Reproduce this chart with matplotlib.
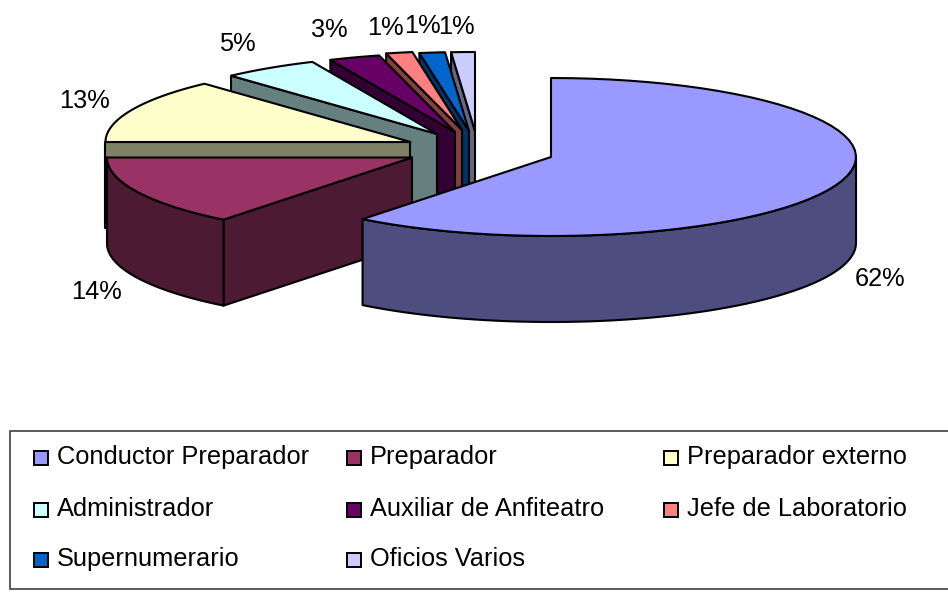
import numpy as np
import matplotlib
matplotlib.use("Agg")
import matplotlib.pyplot as plt
from matplotlib.patches import Rectangle

plt.rcParams["font.family"] = ["Liberation Sans", "DejaVu Sans"]

categories = [
    "Conductor Preparador", "Preparador", "Preparador externo",
    "Administrador", "Auxiliar de Anfiteatro", "Jefe de Laboratorio",
    "Supernumerario", "Oficios Varios",
]
shares = [60.6, 14.4, 13.2, 5.1, 2.7, 1.4, 1.35, 1.25]
pct_labels = ["62%", "14%", "13%", "5%", "3%", "1%", "1%", "1%"]
top_colors = ["#9999FF", "#993366", "#FFFFCC", "#CCFFFF", "#660066", "#FF8080", "#0066CC", "#CCCCFF"]
wall_colors = ["#4D4D80", "#4D1A33", "#808066", "#668080", "#330033", "#804040", "#003366", "#666680"]

# layout, all in pixels of the 948x592 picture
RX, RY, DEPTH = 305, 79, 86
apex_xy = [(551, 157), (412, 157.5), (410.5, 142), (437, 134), (455, 132), (462, 130), (469, 131), (475, 131)]
label_xy = [(880, 279), (97, 292), (85, 101), (237, 44), (329, 30), (385, 28), (422, 26), (456, 27)]
legend_col_x = [34, 347, 664]
legend_row_y = [451, 503, 553]
FONT_SIZE = 18.3
EDGE = dict(edgecolor="black", linewidth=1.5, joinstyle="round")


def rim(apex, a0, a1, n=60):
    t = np.radians(np.linspace(a0, a1, n))
    return apex[0] + RX * np.sin(t), apex[1] - RY * np.cos(t)


def draw_slice(ax, apex, a0, a1, top, wall):
    # radial wall, only when it faces the viewer
    for ang, show in ((a0, 180 <= a0 < 360), (a1, 0 < a1 <= 180)):
        if show:
            x, y = rim(apex, ang, ang, 1)
            ax.fill([apex[0], x[0], x[0], apex[0]],
                    [apex[1], y[0], y[0] + DEPTH, apex[1] + DEPTH],
                    facecolor=wall, **EDGE)
    # outer wall, front half of the rim only
    lo, hi = max(a0, 90), min(a1, 270)
    if lo < hi:
        x, y = rim(apex, lo, hi)
        ax.fill(np.r_[x, x[::-1]], np.r_[y, y[::-1] + DEPTH], facecolor=wall, **EDGE)
    x, y = rim(apex, a0, a1)
    ax.fill(np.r_[apex[0], x], np.r_[apex[1], y], facecolor=top, **EDGE)


def main():
    fig = plt.figure(figsize=(9.48, 5.92), dpi=100)
    ax = fig.add_axes([0, 0, 1, 1])
    ax.set_xlim(0, 948)
    ax.set_ylim(592, 0)
    ax.axis("off")

    edges = np.r_[0, np.cumsum(shares)] / sum(shares) * 360
    # back slices first, the big front one last
    for i in reversed(range(len(shares))):
        draw_slice(ax, apex_xy[i], edges[i], edges[i + 1], top_colors[i], wall_colors[i])

    for (x, y), text in zip(label_xy, pct_labels):
        ax.text(x, y, text, ha="center", va="center", fontsize=FONT_SIZE, color="black")

    ax.add_patch(Rectangle((10, 431), 945, 158, facecolor="white", edgecolor="#404040", linewidth=1.2))
    for i, name in enumerate(categories):
        x = legend_col_x[i % 3]
        y = legend_row_y[i // 3]
        ax.add_patch(Rectangle((x, y), 14, 14, facecolor=top_colors[i], edgecolor="black", linewidth=1.4))
        ax.text(x + 23, y + 6, name, ha="left", va="center", fontsize=FONT_SIZE, color="black")

    fig.savefig("out.png", dpi=100)


if __name__ == "__main__":
    main()
